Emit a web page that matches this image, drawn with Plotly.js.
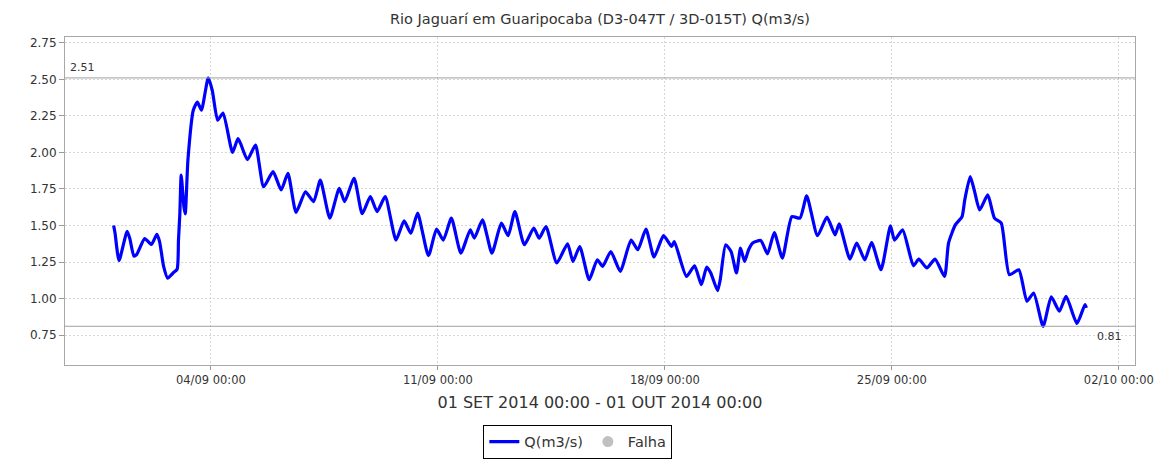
<!DOCTYPE html>
<html>
<head>
<meta charset="utf-8">
<script src="https://cdn.plot.ly/plotly-3.0.1.min.js"></script>
<style>
  body { margin: 0; background: #fff; }
  #plotArea { width: 1165px; height: 460px; }
</style>
</head>
<body>
<div id="plotArea"></div>
<script>
// Q(m3/s) readings, Rio Jaguari em Guaripocaba, Sept 2014
var times = [
  "2014-09-01 00:00", "2014-09-01 01:00", "2014-09-01 04:00", "2014-09-01 10:00", "2014-09-01 12:00",
  "2014-09-01 15:00", "2014-09-01 17:00", "2014-09-01 23:00", "2014-09-02 04:00", "2014-09-02 08:00",
  "2014-09-02 10:00", "2014-09-02 13:00", "2014-09-02 16:00", "2014-09-02 20:00", "2014-09-02 23:00",
  "2014-09-03 00:00", "2014-09-03 01:00", "2014-09-03 02:00", "2014-09-03 04:00", "2014-09-03 05:00",
  "2014-09-03 07:00", "2014-09-03 11:00", "2014-09-03 14:00", "2014-09-03 17:00", "2014-09-03 22:00",
  "2014-09-04 01:00", "2014-09-04 05:00", "2014-09-04 09:00", "2014-09-04 16:00", "2014-09-04 20:00",
  "2014-09-04 22:00", "2014-09-05 03:00", "2014-09-05 09:00", "2014-09-05 15:00", "2014-09-05 22:00",
  "2014-09-06 04:00", "2014-09-06 09:00", "2014-09-06 15:00", "2014-09-06 22:00", "2014-09-07 04:00",
  "2014-09-07 09:00", "2014-09-07 16:00", "2014-09-07 23:00", "2014-09-08 03:00", "2014-09-08 10:00",
  "2014-09-08 16:00", "2014-09-08 22:00", "2014-09-09 03:00", "2014-09-09 09:00", "2014-09-09 17:00",
  "2014-09-09 23:00", "2014-09-10 04:00", "2014-09-10 09:00", "2014-09-10 17:00", "2014-09-10 23:00",
  "2014-09-11 04:00", "2014-09-11 10:00", "2014-09-11 17:00", "2014-09-12 00:00", "2014-09-12 03:00",
  "2014-09-12 09:00", "2014-09-12 16:00", "2014-09-12 23:00", "2014-09-13 04:00", "2014-09-13 09:00",
  "2014-09-13 16:00", "2014-09-13 23:00", "2014-09-14 03:00", "2014-09-14 08:00", "2014-09-14 16:00",
  "2014-09-15 00:00", "2014-09-15 04:00", "2014-09-15 09:00", "2014-09-15 16:00", "2014-09-15 22:00",
  "2014-09-16 02:00", "2014-09-16 08:00", "2014-09-16 15:00", "2014-09-16 23:00", "2014-09-17 04:00",
  "2014-09-17 10:00", "2014-09-17 16:00", "2014-09-17 23:00", "2014-09-18 05:00", "2014-09-18 07:00",
  "2014-09-18 16:00", "2014-09-18 22:00", "2014-09-19 03:00", "2014-09-19 07:00", "2014-09-19 10:00",
  "2014-09-19 15:00", "2014-09-19 17:00", "2014-09-19 21:00", "2014-09-20 01:00", "2014-09-20 05:00",
  "2014-09-20 08:00", "2014-09-20 11:00", "2014-09-20 14:00", "2014-09-20 17:00", "2014-09-20 23:00",
  "2014-09-21 04:00", "2014-09-21 09:00", "2014-09-21 15:00", "2014-09-21 22:00", "2014-09-22 04:00",
  "2014-09-22 09:00", "2014-09-22 17:00", "2014-09-23 00:00", "2014-09-23 06:00", "2014-09-23 09:00",
  "2014-09-23 17:00", "2014-09-23 22:00", "2014-09-24 04:00", "2014-09-24 09:00", "2014-09-24 16:00",
  "2014-09-24 23:00", "2014-09-25 02:00", "2014-09-25 08:00", "2014-09-25 16:00", "2014-09-25 20:00",
  "2014-09-26 02:00", "2014-09-26 08:00", "2014-09-26 15:00", "2014-09-26 18:00", "2014-09-26 23:00",
  "2014-09-27 04:00", "2014-09-27 06:00", "2014-09-27 10:00", "2014-09-27 13:00", "2014-09-27 17:00",
  "2014-09-27 23:00", "2014-09-28 04:00", "2014-09-28 09:00", "2014-09-28 15:00", "2014-09-28 22:00",
  "2014-09-29 04:00", "2014-09-29 09:00", "2014-09-29 16:00", "2014-09-29 22:00", "2014-09-30 04:00",
  "2014-09-30 09:00", "2014-09-30 17:00", "2014-09-30 23:00", "2014-10-01 00:00"
];
var flow = [
  1.50, 1.45, 1.26, 1.46, 1.41,
  1.29, 1.30, 1.41, 1.37, 1.44,
  1.39, 1.22, 1.14, 1.175, 1.20,
  1.40, 1.58, 1.845, 1.63, 1.58,
  1.95, 2.29, 2.345, 2.29, 2.51,
  2.425, 2.22, 2.27, 2.00, 2.095,
  2.06, 1.95, 2.05, 1.765, 1.868,
  1.743, 1.857, 1.59, 1.73, 1.663,
  1.81, 1.55, 1.754, 1.663, 1.823,
  1.58, 1.697, 1.595, 1.697, 1.40,
  1.531, 1.447, 1.584, 1.293, 1.475,
  1.40, 1.55, 1.311, 1.47, 1.413,
  1.538, 1.311, 1.516, 1.43, 1.595,
  1.368, 1.482, 1.413, 1.493, 1.243,
  1.375, 1.254, 1.356, 1.129, 1.265,
  1.22, 1.322, 1.186, 1.40, 1.334,
  1.475, 1.284, 1.43, 1.356, 1.39,
  1.151, 1.224, 1.095, 1.215, 1.175,
  1.054, 1.129, 1.368, 1.322, 1.175,
  1.345, 1.254, 1.334, 1.38, 1.397,
  1.306, 1.452, 1.277, 1.561, 1.55,
  1.702, 1.43, 1.557, 1.436, 1.511,
  1.27, 1.38, 1.265, 1.383, 1.197,
  1.497, 1.40, 1.47, 1.224, 1.27,
  1.209, 1.27, 1.151, 1.38, 1.504,
  1.561, 1.675, 1.834, 1.743, 1.606,
  1.709, 1.55, 1.516, 1.163, 1.197,
  0.981, 1.038, 0.81, 1.011, 0.913,
  1.015, 0.829, 0.959, 0.936
];

var tickDates = ["2014-08-28", "2014-09-04", "2014-09-11", "2014-09-18", "2014-09-25", "2014-10-02"];
var tickLabels = ["28/08 00:00", "04/09 00:00", "11/09 00:00", "18/09 00:00", "25/09 00:00", "02/10 00:00"];
var yTicks = [0.75, 1.00, 1.25, 1.50, 1.75, 2.00, 2.25, 2.50, 2.75];

var qMax = Math.max(...flow);
var qMin = Math.min(...flow);

var traceQ = {
    x: times,
    y: flow,
    type: "scatter",
    mode: "lines",
    name: "Q(m3/s)",
    line: {color: "#0000ff", width: 3.2, shape: "spline", smoothing: 0.55}
};
// legend-only entry for gaps
var traceFalha = {
    x: [null],
    y: [null],
    type: "scatter",
    mode: "markers",
    name: "Falha",
    marker: {color: "#c0c0c0", size: 11}
};

var gridStyle = {gridcolor: "#d6d6d6", griddash: "2px,2px", gridwidth: 1};

var layout = {
    width: 1165,
    height: 460,
    margin: {l: 65, r: 30, t: 37, b: 95},
    paper_bgcolor: "#ffffff",
    plot_bgcolor: "#ffffff",
    font: {family: "DejaVu Sans, sans-serif", color: "#333333", size: 12},
    title: {
        text: "Rio Jaguarí em Guaripocaba (D3-047T / 3D-015T) Q(m3/s)",
        font: {size: 14.5, color: "#333333"},
        x: 0.5, xref: "paper", y: 0.958, yanchor: "middle"
    },
    xaxis: Object.assign({
        type: "date",
        range: ["2014-08-30 12:00", "2014-10-02 12:00"],
        tickvals: tickDates,
        ticktext: tickLabels,
        tickfont: {size: 11.5, color: "#333333"},
        ticks: "outside", ticklen: 4, tickcolor: "#999999",
        showline: true, linecolor: "#a8a8a8", linewidth: 1, mirror: true,
        zeroline: false,
        title: {text: "01 SET 2014 00:00 - 01 OUT 2014 00:00", font: {size: 16, color: "#333333"}, standoff: 11}
    }, gridStyle),
    yaxis: Object.assign({
        range: [0.545, 2.79],
        tickvals: yTicks,
        tickformat: ".2f",
        tickfont: {size: 12, color: "#333333"},
        ticks: "outside", ticklen: 5, tickcolor: "#999999",
        showline: true, linecolor: "#a8a8a8", linewidth: 1, mirror: true,
        zeroline: false
    }, gridStyle),
    showlegend: true,
    legend: {
        orientation: "h",
        xref: "container", yref: "container",
        x: 0.496, xanchor: "center",
        y: 0.003, yanchor: "bottom",
        bordercolor: "#000000", borderwidth: 1,
        font: {size: 14.5, color: "#333333"},
        itemwidth: 30,
        tracegroupgap: 0
    },
    shapes: [
        {type: "line", xref: "paper", x0: 0, x1: 1, yref: "y", y0: qMax, y1: qMax,
         line: {color: "#a0a0a0", width: 1}},
        {type: "line", xref: "paper", x0: 0, x1: 1, yref: "y", y0: qMin, y1: qMin,
         line: {color: "#a0a0a0", width: 1}}
    ],
    annotations: [
        {xref: "paper", x: 0.003, xanchor: "left", yref: "y", y: qMax, yanchor: "bottom", yshift: 2,
         text: qMax.toFixed(2), showarrow: false, font: {size: 11, color: "#333333"}},
        {xref: "paper", x: 0.99, xanchor: "right", yref: "y", y: qMin, yanchor: "top", yshift: -2,
         text: qMin.toFixed(2), showarrow: false, font: {size: 11, color: "#333333"}}
    ]
};

Plotly.newPlot("plotArea", [traceQ, traceFalha], layout, {displayModeBar: false});
</script>
</body>
</html>
